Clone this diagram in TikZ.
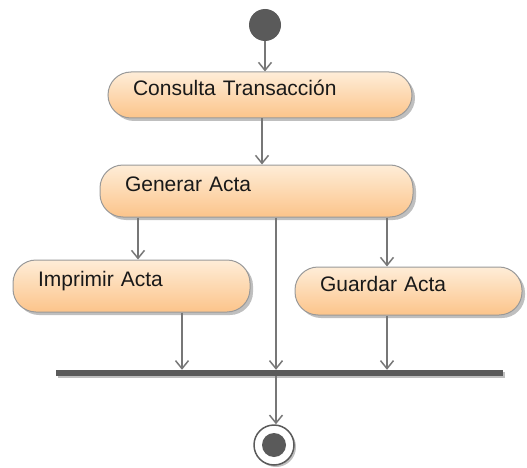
\documentclass[tikz,border=0pt]{standalone}
\usepackage{fontspec}
\setmainfont{Liberation Sans}
\usetikzlibrary{arrows.meta,shadows}
\definecolor{lin}{HTML}{777777}
\definecolor{dark}{HTML}{5A5A5A}
\definecolor{bord}{HTML}{999999}
\definecolor{topc}{RGB}{254,237,216}
\definecolor{botc}{RGB}{252,196,138}
\tikzset{
  act/.style={draw=bord, line width=1pt, rounded corners=23pt,
    top color=topc, bottom color=botc, align=left,
    inner xsep=25pt, inner ysep=0pt, text height=15pt, text depth=14pt,
    font=\fontsize{21}{24}\selectfont, text=black!90,
    drop shadow={shadow xshift=3pt, shadow yshift=-3pt, opacity=0.25, fill=black}},
  flow/.style={draw=lin, line width=1.5pt, -{Straight Barb[length=8pt,width=13pt,line width=1.5pt]}},
  plain/.style={draw=lin, line width=1.5pt}
}
\begin{document}
\begin{tikzpicture}[x=1pt,y=-1pt]
\useasboundingbox (0,0) rectangle (527,468);
\node[circle, fill=dark, minimum size=32pt, inner sep=0pt] (start) at (265,25) {};
\node[act, text width=254pt, minimum height=46pt] (cons) at (260,95) {Consulta Transacción};
\node[act, text width=263pt, minimum height=52pt] (gen) at (256.5,191) {Generar Acta};
\node[act, text width=187pt, minimum height=52pt] (imp) at (131.5,286) {Imprimir Acta};
\node[act, text width=177pt, minimum height=48pt] (gua) at (408.5,291) {Guardar Acta};
\node[rectangle, fill=dark, minimum width=447pt, minimum height=6pt, inner sep=0pt,
  drop shadow={shadow xshift=2pt, shadow yshift=-2pt, opacity=0.25, fill=black}] (join) at (279.5,373) {};
\node[circle, draw=dark, line width=1.5pt, fill=white, minimum size=40pt, inner sep=0pt,
  drop shadow={shadow xshift=2pt, shadow yshift=-2pt, opacity=0.25, fill=black}] (fin) at (274,445) {};
\node[circle, fill=dark, minimum size=24pt, inner sep=0pt] (finin) at (fin.center) {};
\coordinate (ca) at (262,0);
\coordinate (c1) at (138,0);
\coordinate (c2) at (276,0);
\coordinate (c3) at (387,0);
\coordinate (c4) at (182,0);
\draw[flow] (start) -- (cons.north -| start);
\draw[flow] (cons.south -| ca) -- (gen.north -| ca);
\draw[flow] (gen.south -| c1) -- (imp.north -| c1);
\draw[flow] (gen.south -| c3) -- (gua.north -| c3);
\draw[flow] (gen.south -| c2) -- (join.north -| c2);
\draw[flow] (imp.south -| c4) -- (join.north -| c4);
\draw[flow] (gua.south -| c3) -- (join.north -| c3);
\draw[flow] (join.south -| c2) -- (fin.north -| c2);
\end{tikzpicture}
\end{document}
